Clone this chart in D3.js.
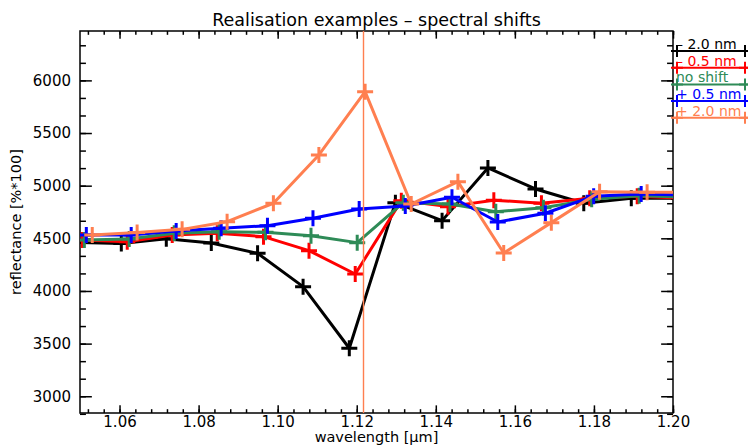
<!DOCTYPE html>
<html>
<head>
<meta charset="utf-8">
<script src="https://cdn.jsdelivr.net/npm/d3@7"></script>
<style>
  body { margin: 0; background: #fff; }
  text { font-family: "DejaVu Sans", sans-serif; fill: #000; }
</style>
</head>
<body>
<script>
var w = 748;
var h = 445;
var margin = { top: 31, right: 75, bottom: 32, left: 80 };

// band centres (um) of the unshifted spectrum
var wavelengths = [1.0511, 1.06245, 1.07383, 1.08521, 1.09692, 1.10843, 1.12012,
                   1.13178, 1.14359, 1.15518, 1.16722, 1.17943, 1.19145, 1.2035];

var seriesNames = ["\u2013 2.0 nm", "\u2013 0.5 nm", "no shift", "+ 0.5 nm", "+ 2.0 nm"];
var seriesShifts = [-0.002, -0.0005, 0, 0.0005, 0.002];
var seriesColors = ["#000000", "#ff0000", "#2e8b57", "#0000ff", "#ff7f50"];

var minus20 = [4462, 4450, 4495, 4455, 4358, 4041, 3456, 4839, 4668, 5168, 4969, 4833, 4880, 4880];
var minus05 = [4484, 4468, 4532, 4548, 4516, 4383, 4161, 4858, 4801, 4862, 4833, 4880, 4900, 4880];
var noShift = [4484, 4494, 4548, 4563, 4557, 4525, 4459, 4839, 4826, 4753, 4790, 4870, 4905, 4890];
var plus05  = [4532, 4532, 4570, 4595, 4620, 4690, 4779, 4807, 4890, 4655, 4738, 4900, 4920, 4910];
var plus20  = [4532, 4555, 4585, 4658, 4833, 5292, 5893, 4826, 5038, 4360, 4649, 4943, 4937, 4940];
var seriesValues = [minus20, minus05, noShift, plus05, plus20];

var markerLine = 1.1217; // vertical reference line

var xTicks = [1.06, 1.08, 1.10, 1.12, 1.14, 1.16, 1.18, 1.20];
var yTicks = [3000, 3500, 4000, 4500, 5000, 5500, 6000];

var x0 = margin.left, x1 = w - margin.right;
var y0 = h - margin.bottom, y1 = margin.top;

var xScale = d3.scaleLinear().domain([1.05, 1.20]).range([x0, x1]);
var yScale = d3.scaleLinear().domain([2841, 6469]).range([y0, y1]);

var xMinor = d3.range(1.052, 1.2001, 0.004);
var yMinor = d3.range(2833.34, 6469, 500 / 3);

// IDL style tick lengths (2% of the plot size)
var xTickLen = 0.02 * (y0 - y1);
var yTickLen = 0.02 * (x1 - x0);

var svg = d3.select("body")
    .append("svg")
    .attr("width", w)
    .attr("height", h);

svg.append("clipPath")
    .attr("id", "plotclip")
    .append("rect")
    .attr("x", x0)
    .attr("y", y1)
    .attr("width", x1 - x0)
    .attr("height", y0 - y1);

// axes: bottom & left get labels, top & right only ticks
function styleAxis(g) {
    g.select(".domain").remove();
    g.selectAll("line").attr("stroke", "#000").attr("stroke-width", 1.5);
    g.selectAll("text").attr("font-size", 15).attr("fill", "#000");
}

svg.append("g")
    .attr("transform", "translate(0," + y0 + ")")
    .call(d3.axisBottom(xScale).tickValues(xTicks).tickSize(-xTickLen).tickPadding(3)
        .tickFormat(d3.format(".2f")))
    .call(styleAxis)
    .attr("font-family", null);

svg.append("g")
    .attr("transform", "translate(0," + y0 + ")")
    .call(d3.axisBottom(xScale).tickValues(xMinor).tickSize(-xTickLen / 2).tickFormat(""))
    .call(styleAxis);

svg.append("g")
    .attr("transform", "translate(0," + y1 + ")")
    .call(d3.axisTop(xScale).tickValues(xTicks).tickSize(-xTickLen).tickFormat(""))
    .call(styleAxis);

svg.append("g")
    .attr("transform", "translate(0," + y1 + ")")
    .call(d3.axisTop(xScale).tickValues(xMinor).tickSize(-xTickLen / 2).tickFormat(""))
    .call(styleAxis);

svg.append("g")
    .attr("transform", "translate(" + x0 + ",0)")
    .call(d3.axisLeft(yScale).tickValues(yTicks).tickSize(-yTickLen).tickPadding(9)
        .tickFormat(d3.format("d")))
    .call(styleAxis)
    .attr("font-family", null);

svg.append("g")
    .attr("transform", "translate(" + x0 + ",0)")
    .call(d3.axisLeft(yScale).tickValues(yMinor).tickSize(-yTickLen / 2).tickFormat(""))
    .call(styleAxis);

svg.append("g")
    .attr("transform", "translate(" + x1 + ",0)")
    .call(d3.axisRight(yScale).tickValues(yTicks).tickSize(-yTickLen).tickFormat(""))
    .call(styleAxis);

svg.append("g")
    .attr("transform", "translate(" + x1 + ",0)")
    .call(d3.axisRight(yScale).tickValues(yMinor).tickSize(-yTickLen / 2).tickFormat(""))
    .call(styleAxis);

// frame
svg.append("rect")
    .attr("x", x0)
    .attr("y", y1)
    .attr("width", x1 - x0)
    .attr("height", y0 - y1)
    .attr("fill", "none")
    .attr("stroke", "#000")
    .attr("stroke-width", 1.5);

var plot = svg.append("g").attr("clip-path", "url(#plotclip)");

var line = d3.line()
    .x(function(d) { return xScale(d[0]); })
    .y(function(d) { return yScale(d[1]); });

function cross(size) {
    return "M" + (-size) + ",0H" + size + "M0," + (-size) + "V" + size;
}

seriesValues.forEach(function(vals, i) {
    var pts = vals.map(function(v, j) { return [wavelengths[j] + seriesShifts[i], v]; });

    plot.append("path")
        .datum(pts)
        .attr("d", line)
        .attr("fill", "none")
        .attr("stroke", seriesColors[i])
        .attr("stroke-width", 3)
        .attr("stroke-linejoin", "round");

    plot.selectAll(".pt" + i)
        .data(pts)
        .enter()
        .append("path")
        .attr("class", "pt" + i)
        .attr("transform", function(d) { return "translate(" + xScale(d[0]) + "," + yScale(d[1]) + ")"; })
        .attr("d", cross(8))
        .attr("stroke", seriesColors[i])
        .attr("stroke-width", 3);
});

// vertical reference line
var xv = Math.round(xScale(markerLine)) + 0.5;
svg.append("line")
    .attr("x1", xv)
    .attr("x2", xv)
    .attr("y1", y1)
    .attr("y2", y0)
    .attr("stroke", "#ff7f50")
    .attr("stroke-width", 1.4);

// title and axis labels
svg.append("text")
    .attr("text-anchor", "middle")
    .attr("x", (x0 + x1) / 2)
    .attr("y", 26)
    .attr("font-size", 17.5)
    .text("Realisation examples \u2013 spectral shifts");

svg.append("text")
    .attr("text-anchor", "middle")
    .attr("x", (x0 + x1) / 2)
    .attr("y", 442)
    .attr("font-size", 14.5)
    .text("wavelength [\u03bcm]");

svg.append("text")
    .attr("text-anchor", "middle")
    .attr("transform", "rotate(-90)")
    .attr("x", -(y0 + y1) / 2)
    .attr("y", 21)
    .attr("font-size", 14.5)
    .text("reflectance [%*100]");

// legend, right of the plot
var legend = svg.append("g");
seriesNames.forEach(function(name, i) {
    var ly = 51 + i * 16.7;
    var g = legend.append("g");
    g.append("line")
        .attr("x1", x1)
        .attr("x2", w)
        .attr("y1", ly)
        .attr("y2", ly)
        .attr("stroke", seriesColors[i])
        .attr("stroke-width", 2);
    [x1 + 4, w - 3].forEach(function(px) {
        g.append("path")
            .attr("transform", "translate(" + px + "," + ly + ")")
            .attr("d", cross(6))
            .attr("stroke", seriesColors[i])
            .attr("stroke-width", 2);
    });
    g.append("text")
        .attr("x", x1 + 3)
        .attr("y", ly - 2)
        .attr("font-size", 14)
        .style("fill", seriesColors[i])
        .text(name);
});
</script>
</body>
</html>
